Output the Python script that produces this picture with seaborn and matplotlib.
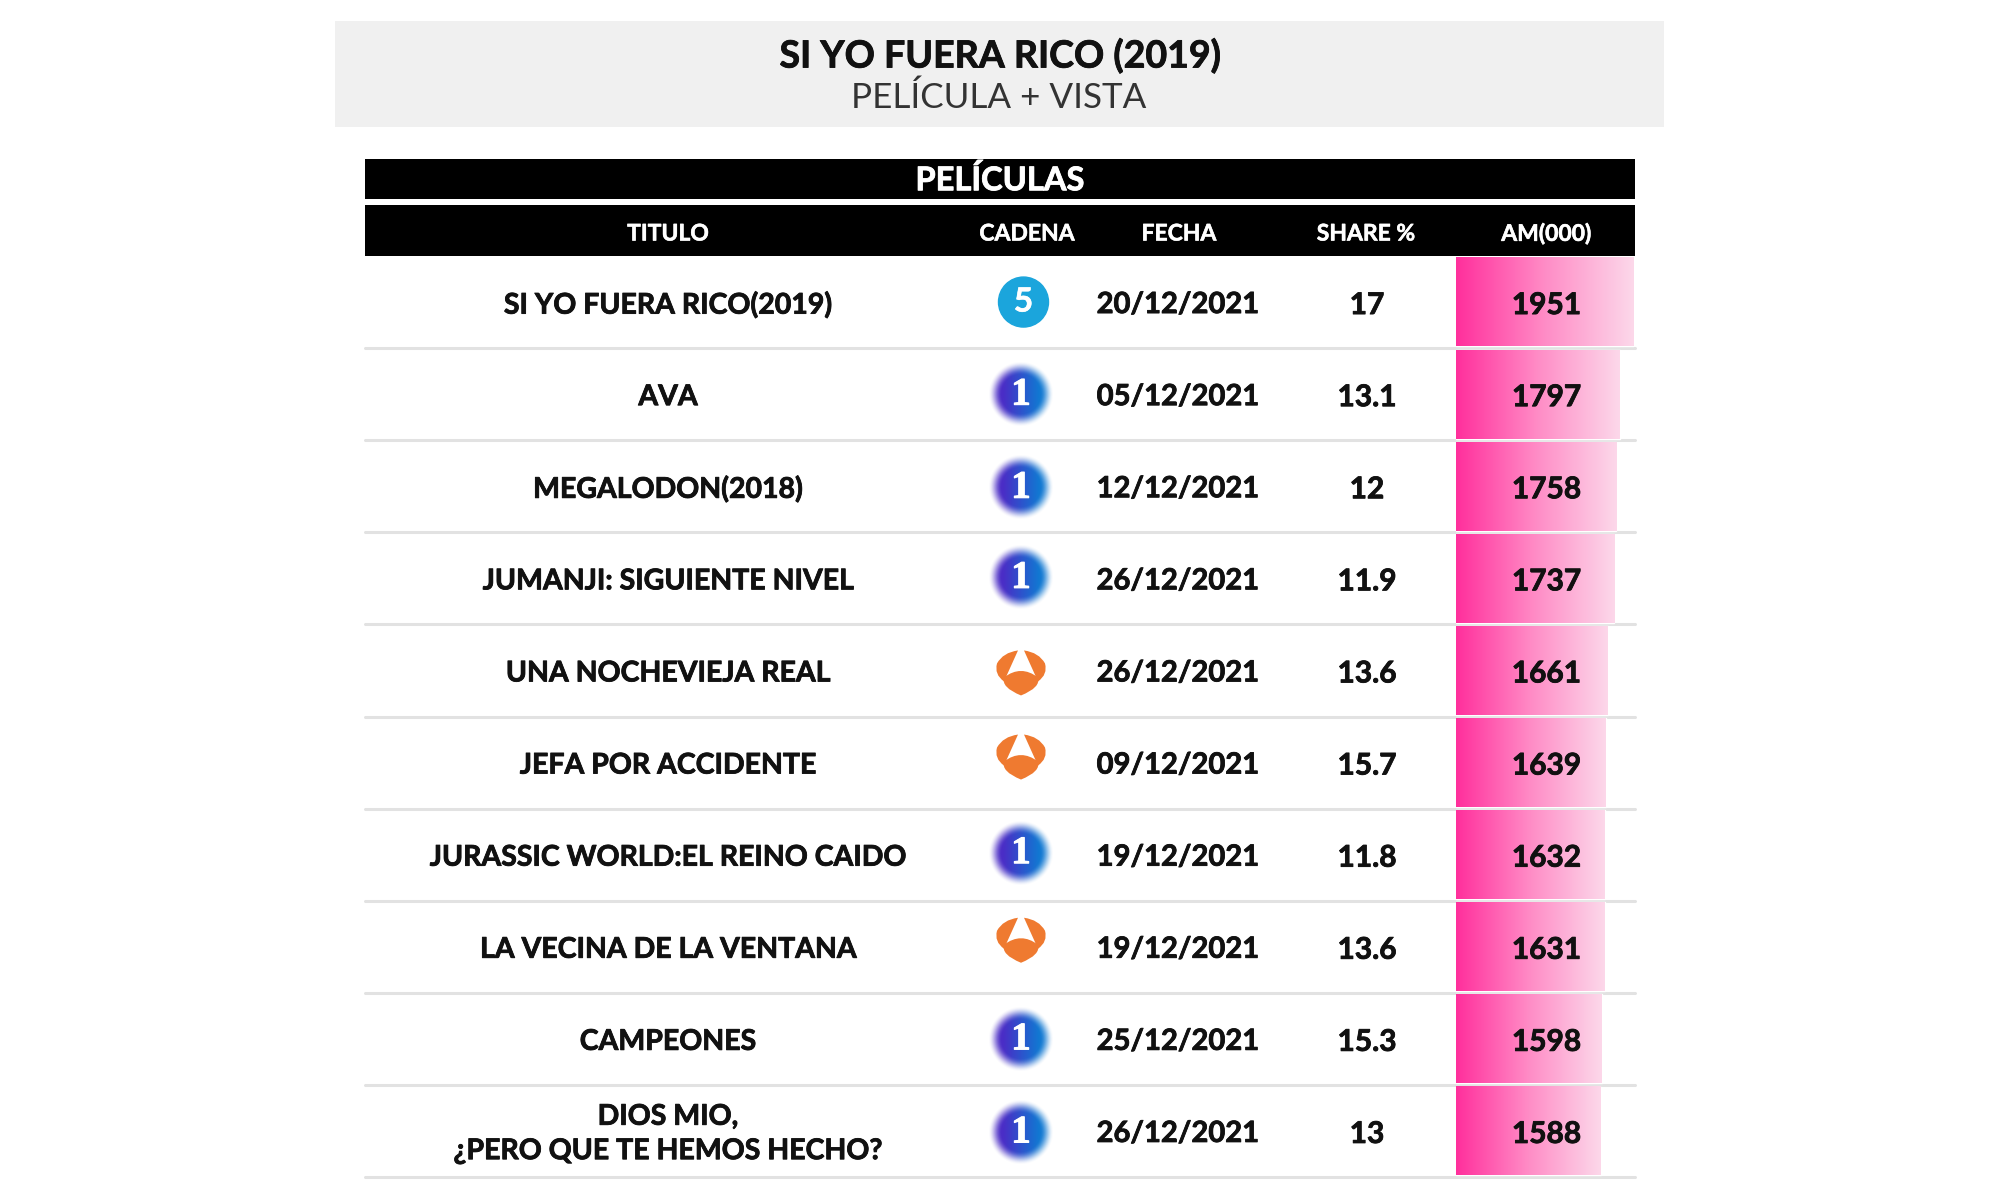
import numpy as np
import pandas as pd
import matplotlib.pyplot as plt
import matplotlib.patheffects as pe
import seaborn as sns
from matplotlib.colors import LinearSegmentedColormap, to_rgb
from matplotlib.patches import Circle, PathPatch, Rectangle
from matplotlib.path import Path

titulos = ['SI YO FUERA RICO(2019)', 'AVA', 'MEGALODON(2018)', 'JUMANJI: SIGUIENTE NIVEL',
           'UNA NOCHEVIEJA REAL', 'JEFA POR ACCIDENTE', 'JURASSIC WORLD:EL REINO CAIDO',
           'LA VECINA DE LA VENTANA', 'CAMPEONES', 'DIOS MIO,\n¿PERO QUE TE HEMOS HECHO?']
cadenas = ['T5', 'La1', 'La1', 'La1', 'A3', 'A3', 'La1', 'A3', 'La1', 'La1']
fechas = ['20/12/2021', '05/12/2021', '12/12/2021', '26/12/2021', '26/12/2021',
          '09/12/2021', '19/12/2021', '19/12/2021', '25/12/2021', '26/12/2021']
shares = ['17', '13.1', '12', '11.9', '13.6', '15.7', '11.8', '13.6', '15.3', '13']
am = [1951, 1797, 1758, 1737, 1661, 1639, 1632, 1631, 1598, 1588]

columnas = ['TITULO', 'CADENA', 'FECHA', 'SHARE %', 'AM(000)']

# layout in pixels of the 2000x1200 picture
W, H = 2000, 1200
TOP, ROW = 256, 92.1
LEFT, RIGHT = 365, 1635
BAR_LEFT, BAR_RIGHT = 1456, 1634
ICON_X = {'T5': 1023.5, 'La1': 1021, 'A3': 1021}
ICON_DY = [0, 0, 1, -1, 2, -6, -2, -7, 0, 1]

sns.set_theme(style='white')
plt.rcParams['font.family'] = ['Lato', 'DejaVu Sans']
INK = '#111111'

fig = plt.figure(figsize=(20, 12), dpi=100, facecolor='white')
ax = fig.add_axes([0, 0, 1, 1])
ax.set_xlim(0, W)
ax.set_ylim(H, 0)
ax.axis('off')


def px_text(x, y, s, size=20, weight='bold', color=INK, stroke=0.6, **kw):
    t = fig.text(x / W, 1 - y / H, s, fontsize=size, fontweight=weight, color=color,
                 ha='center', va='center', zorder=5, **kw)
    if stroke:
        # the reference type is heavier than Lato Bold
        t.set_path_effects([pe.withStroke(linewidth=stroke, foreground=color)])


def draw_la1(cx, cy):
    yy, xx = np.mgrid[-1:1:160j, -1:1:160j]
    r = np.hypot(xx, yy)
    left, right = np.array(to_rgb('#4a2cc6')), np.array(to_rgb('#1178d2'))
    t = np.clip((xx + 0.55) / 1.1, 0, 1)[..., None]
    img = np.zeros((160, 160, 4))
    img[..., :3] = left * (1 - t) + right * t
    edge = np.clip((1 - r) / 0.42, 0, 1)
    img[..., 3] = edge * edge * (3 - 2 * edge)
    ax.imshow(img, extent=(cx - 33, cx + 33, cy + 33, cy - 33), zorder=2, aspect='auto')
    px_text(cx, cy + 1, '1', size=28, color='white', family='Liberation Serif', stroke=0.8)


def draw_t5(cx, cy):
    ax.add_patch(Circle((cx, cy), 25, color='#1ba5dc', zorder=2))
    px_text(cx, cy, '5', size=24, color='white', stroke=0.4)


def draw_a3(cx, cy):
    c3 = Path.CURVE3
    for sx in (-1, 1):
        verts = [(-3, -22), (-18, -20), (-24, -9), (-27, 2), (-17, 9), (-3, -22)]
        codes = [Path.MOVETO, c3, c3, c3, c3, Path.LINETO]
        ax.add_patch(PathPatch(Path([(cx + sx * a, cy + b) for a, b in verts], codes),
                               fc='#ef7a30', ec='none', zorder=2))
    verts = [(-17, 5), (0, -8), (17, 5), (20, 15), (0, 23), (-20, 15), (-17, 5)]
    codes = [Path.MOVETO, c3, c3, c3, c3, c3, c3]
    ax.add_patch(PathPatch(Path([(cx + a, cy + b) for a, b in verts], codes),
                           fc='#ef7a30', ec='none', zorder=2))


# title box and black headers
ax.add_patch(Rectangle((335, 21), 1329, 106, fc='#f0f0f0', ec='none'))
ax.add_patch(Rectangle((LEFT, 159), RIGHT - LEFT, 40, fc='black', ec='none'))
ax.add_patch(Rectangle((LEFT, 205), RIGHT - LEFT, 51, fc='black', ec='none'))
px_text(1000, 55.5, 'SI YO FUERA RICO (2019)', size=27)
px_text(999, 98, 'PELÍCULA + VISTA', size=25.2, weight='normal', color='#333333', stroke=0)
px_text(1000, 180, 'PELÍCULAS', size=23.5, color='white')
for x, s in zip([668, 1027, 1179, 1366, 1546.5], columnas):
    px_text(x, 234, s, size=16.5, color='white', stroke=0.4)

# rows
n = len(titulos)
for i in range(n):
    y0 = TOP + ROW * i
    yc = y0 + ROW / 2
    ax.plot([LEFT, RIGHT], [y0 + ROW] * 2, color='#e2e2e2', lw=2.2, zorder=1)
    px_text(668, yc + 3, titulos[i], size=20.5, linespacing=1.4)
    px_text(1178, yc + 3, fechas[i], size=21)
    px_text(1367, yc + 3, shares[i], size=21.5)
    px_text(1546.5, yc + 3, str(am[i]), size=21.5)
    cx, cy = ICON_X[cadenas[i]], yc + ICON_DY[i]
    {'T5': draw_t5, 'La1': draw_la1, 'A3': draw_a3}[cadenas[i]](cx, cy)
ax.set_xlim(0, W)
ax.set_ylim(H, 0)

# AM bars share the zero based x scale, the gradient is clipped to each bar
df = pd.DataFrame({'titulo': titulos, 'am': am})
ax_bar = fig.add_axes([BAR_LEFT / W, 1 - (TOP + ROW * n) / H, (BAR_RIGHT - BAR_LEFT) / W, ROW * n / H])
ax_bar.patch.set_alpha(0)
sns.barplot(data=df, x='am', y='titulo', orient='h', width=0.965, color='white', ax=ax_bar)
cmap = LinearSegmentedColormap.from_list('am', ['#ff2f9c', '#ff8cc6', '#fcd8ea'])
grad = np.linspace(0, 1, 256)[None, :]
for bar in ax_bar.patches:
    x0, y0, w, h = bar.get_x(), bar.get_y(), bar.get_width(), bar.get_height()
    ax_bar.imshow(grad, cmap=cmap, aspect='auto', extent=(x0, x0 + w, y0 + h, y0), zorder=2)
ax_bar.set_xlim(0, am[0])
ax_bar.set_ylim(n - 0.5, -0.5)
ax_bar.axis('off')

fig.savefig('out.png', dpi=100)
